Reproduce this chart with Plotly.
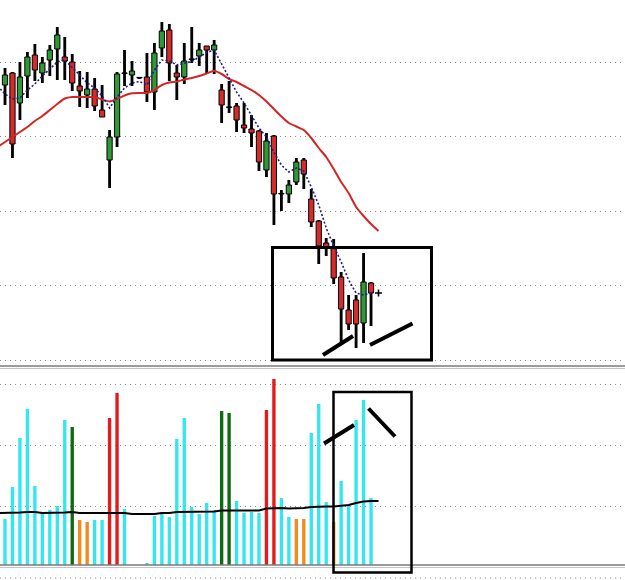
import plotly.graph_objects as go

W, H = 625, 580

# ---- price data (candles, index 0..49) ----
idx = list(range(50))
high = [332, 328, 338, 348, 356, 343, 355, 373, 363, 346,
        329, 328, 322, 315, 270, 328, 350, 339, 323, 347,
        357, 378, 376, 335, 357, 373, 357, 354, 360, 316,
        319, 297, 297, 285, 270, 267, 265, 210, 220, 242,
        242, 211, 180, 162, 161, 128, 105, 105, 147, 118]
low = [295, 242, 280, 302, 319, 317, 324, 320, 320, 309,
       293, 292, 289, 283, 212, 253, 314, 314, 321, 298,
       290, 343, 319, 300, 316, 337, 334, 327, 326, 277,
       287, 268, 267, 253, 229, 223, 175, 189, 197, 215,
       211, 173, 136, 144, 116, 58, 70, 52, 57, 74]
open_ = [315, 327, 297, 324, 345, 327, 340, 351, 343, 338,
         314, 305, 311, 290, 240, 263, 327, 325, 322, 323,
         308, 352, 370, 327, 323, 341, 344, 354, 350, 310,
         293, 294, 275, 271, 269, 230, 264, 206, 206, 218,
         240, 201, 179, 157, 152, 123, 90, 100, 77, 117]
close = [325, 256, 323, 343, 330, 337, 350, 365, 339, 317,
         309, 311, 294, 283, 263, 326, 326.5, 329, 322.5, 308,
         347, 369, 337, 323, 339, 340.5, 350, 350, 355, 295,
         292.5, 280, 272, 267, 238, 259, 206, 206.5, 215, 238,
         226, 178, 154, 153, 122, 91, 76, 76, 118, 107]

# slow moving average (index -1..50)
ma_slow_x = list(range(-1, 51))
ma_slow = [253, 258, 263, 268, 273, 279, 284, 290, 296, 301.5,
           303, 303, 303, 303, 300.5, 298.5, 301, 304.5, 306.7, 307,
           307, 310, 315, 317.5, 318.5, 320.5, 322, 324, 326.5, 329.3,
           326, 321, 318, 314, 310, 305, 298.5, 291, 283.5, 277,
           273.5, 270, 262, 252, 243, 231, 218, 207, 193, 184,
           176, 169]

# fast moving average (index -1..49)
ma_fast_x = list(range(-1, 50))
ma_fast = [314, 306, 301, 302, 310, 316, 324, 331, 338, 340,
           333, 325, 317, 312, 304, 292, 303, 312, 317, 318.5,
           315, 330, 340, 339, 335, 337, 338.5, 343, 347.5, 350,
           336, 321, 308, 297, 285, 272, 263, 248, 235, 228,
           232, 229, 213, 195, 172, 154, 138, 120, 107, 105,
           107]

# ---- volume data ----
volume = [46, 78, 127, 156, 79, 51, 55, 59, 145, 138,
          45, 43, 45, 45, 147, 172, 56, 0, 0, 2,
          49, 51, 48, 126, 147, 58, 51, 62, 55, 154,
          152, 64, 52, 53, 52, 155, 186, 67, 48, 46,
          46, 132, 161, 63, 43, 84, 60, 145, 165, 67]
vol_kind = ["c", "c", "c", "c", "c", "c", "c", "c", "c", "g",
            "o", "o", "c", "c", "r", "r", "c", "c", "c", "c",
            "c", "c", "c", "c", "c", "c", "c", "c", "c", "g",
            "g", "c", "c", "c", "c", "r", "r", "c", "c", "o",
            "o", "c", "c", "c", "o", "c", "c", "c", "c", "c"]
vol_ma_x = list(range(-1, 51))
vol_ma = [52, 52, 52, 52.5, 53, 53, 52, 52, 52, 52.5,
          53, 52, 52, 52, 52, 52.5, 52.5, 52, 51, 51,
          51, 51, 52, 52, 53, 53, 53, 53, 53, 53.5,
          54.5, 54.5, 54, 54, 54, 54.5, 56.5, 57, 57, 56.5,
          56.5, 57, 58, 58.5, 58.5, 58.5, 59.5, 60, 62, 63.5,
          64, 64]

# ---- styling ----
C_UP, C_DN, C_DOJI = "#2f9a35", "#d62b2b", "#000000"
VOL_COL = {"c": "#33e6f0", "g": "#0d6b12", "r": "#e41b1b", "o": "#f28a1e"}
GRID = "#8a8a8a"

body_col = []
for o, c in zip(open_, close):
    if abs(c - o) < 1:
        body_col.append(C_DOJI)
    elif c > o:
        body_col.append(C_UP)
    else:
        body_col.append(C_DN)
body_base = [min(o, c) for o, c in zip(open_, close)]
body_h = [max(abs(c - o), 0.6) for o, c in zip(open_, close)]
wick_h = [h - l for h, l in zip(high, low)]

fig = go.Figure()
fig.add_trace(go.Bar(x=idx, y=wick_h, base=low, width=0.38,
                     marker=dict(color="black", line=dict(width=0)),
                     xaxis="x", yaxis="y"))
fig.add_trace(go.Bar(x=idx, y=body_h, base=body_base, width=0.7,
                     marker=dict(color=body_col, line=dict(color="black", width=1)),
                     xaxis="x", yaxis="y"))
fig.add_trace(go.Scatter(x=ma_slow_x, y=ma_slow, mode="lines",
                         line=dict(color="#d42424", width=2, shape="spline", smoothing=0.6),
                         xaxis="x", yaxis="y"))
fig.add_trace(go.Scatter(x=ma_fast_x, y=ma_fast, mode="lines",
                         line=dict(color="#1c1c8c", width=1.6, dash="2px,2px"),
                         xaxis="x", yaxis="y"))
fig.add_trace(go.Scatter(x=[50], y=[close[-1]], mode="markers",
                         marker=dict(symbol="cross-thin", size=5,
                                     line=dict(color="black", width=1.6)),
                         xaxis="x", yaxis="y"))
fig.add_trace(go.Bar(x=idx, y=volume, width=0.45,
                     marker=dict(color=[VOL_COL[k] for k in vol_kind], line=dict(width=0)),
                     xaxis="x2", yaxis="y2"))
fig.add_trace(go.Scatter(x=vol_ma_x, y=vol_ma, mode="lines",
                         line=dict(color="black", width=2),
                         xaxis="x2", yaxis="y2"))


def px(x):
    return x / W


def py(y):
    return 1 - y / H


shapes = []
# panel separators
for y, col, w in [(366, "#7a7a7a", 1.5), (368.5, "#c4c4c4", 1),
                  (565, "#7a7a7a", 1.5), (567.5, "#c4c4c4", 1)]:
    shapes.append(dict(type="line", xref="paper", yref="paper",
                       x0=0, x1=1, y0=py(y), y1=py(y),
                       line=dict(color=col, width=w)))
shapes.append(dict(type="line", xref="paper", yref="paper", x0=0, x1=1,
                   y0=py(578), y1=py(578), line=dict(color=GRID, width=1, dash="1px,4px")))
# hand-drawn boxes
shapes.append(dict(type="rect", xref="paper", yref="paper",
                   x0=px(272.5), x1=px(431.5), y0=py(360), y1=py(247.5),
                   line=dict(color="black", width=3)))
shapes.append(dict(type="rect", xref="paper", yref="paper",
                   x0=px(333.5), x1=px(411.5), y0=py(572.5), y1=py(392),
                   line=dict(color="black", width=2.5)))
# hand-drawn strokes
for (x0, y0, x1, y1) in [(323, 355, 353, 336), (370, 345, 412.5, 323.5),
                         (324, 443.5, 354, 425), (368.5, 408.5, 395, 436.5)]:
    shapes.append(dict(type="line", xref="paper", yref="paper",
                       x0=px(x0), y0=py(y0), x1=px(x1), y1=py(y1),
                       line=dict(color="black", width=4)))

xrange = [-5 / 7.47, 620 / 7.47]
axis_common = dict(showticklabels=False, ticks="", zeroline=False, showline=False)

fig.update_layout(
    width=W, height=H,
    margin=dict(l=0, r=0, t=0, b=0),
    paper_bgcolor="white", plot_bgcolor="white",
    showlegend=False, barmode="overlay",
    xaxis=dict(domain=[0, 1], range=xrange, showgrid=False, anchor="y", **axis_common),
    xaxis2=dict(domain=[0, 1], range=xrange, showgrid=False, anchor="y2", matches="x", **axis_common),
    yaxis=dict(domain=[1 - 367 / H, 1], range=[33, 400], tick0=40, dtick=74.5,
               showgrid=True, gridcolor=GRID, griddash="1px,4px", gridwidth=1,
               anchor="x", **axis_common),
    yaxis2=dict(domain=[1 - 566 / H, 1 - 367 / H], range=[-1, 198], tick0=59, dtick=61,
                showgrid=True, gridcolor=GRID, griddash="1px,4px", gridwidth=1,
                anchor="x2", **axis_common),
    shapes=shapes,
)

fig.write_html("out.html")
